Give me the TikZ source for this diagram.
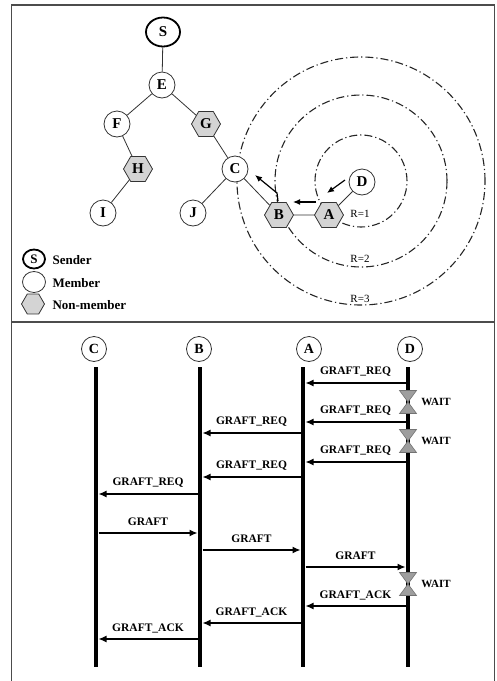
\documentclass[tikz,border=0pt]{standalone}
\usepackage{fontspec}
\setmainfont{Liberation Serif}
\usetikzlibrary{shapes.geometric,arrows.meta,calc}
\newcommand\msgL[4]{\draw[msg] ($(#1|-0,#3)+(-2.5,0)$) -- node[lbl,midway,yshift=11pt]{#4} ($(#2|-0,#3)+(2.5,0)$);}
\newcommand\msgR[4]{\draw[msg] ($(#1|-0,#3)+(2.5,0)$) -- node[lbl,midway,yshift=11pt]{#4} ($(#2|-0,#3)+(-2.5,0)$);}
\newcommand\hglass[2]{%
  \filldraw[glass] ($(#1|-0,#2)+(-8.5,-11.5)$) -- ($(#1|-0,#2)+(8.5,-11.5)$) -- ($(#1|-0,#2)$) -- cycle;
  \filldraw[glass] ($(#1|-0,#2)+(-8.5,11.5)$) -- ($(#1|-0,#2)+(8.5,11.5)$) -- ($(#1|-0,#2)$) -- cycle;
  \node[wlbl] at ($(#1|-0,#2)+(28,0)$) {WAIT};}
\begin{document}
\begin{tikzpicture}[x=1pt,y=-1pt,
  member/.style={circle,draw=black!80,line width=0.8pt,fill=white,minimum size=26pt,inner sep=0pt,font=\fontsize{15}{15}\selectfont\bfseries},
  nonmember/.style={regular polygon,regular polygon sides=6,draw=black!80,line width=0.8pt,fill=black!17,minimum size=29pt,inner sep=0pt,font=\fontsize{15}{15}\selectfont\bfseries},
  sender/.style={ellipse,draw=black,line width=1.8pt,fill=white,minimum width=34pt,minimum height=29pt,inner sep=0pt,font=\fontsize{15}{15}\selectfont\bfseries},
  edge/.style={draw=black!80,line width=0.8pt},
  ring/.style={draw=black!85,line width=1.1pt,dash pattern=on 8pt off 3pt on 1.2pt off 3pt},
  hint/.style={-{Latex[length=7pt,width=6pt]},line width=1.2pt},
  rlbl/.style={font=\fontsize{11}{11}\selectfont},
  leg/.style={anchor=west,font=\fontsize{13}{13}\selectfont\bfseries},
  head/.style={circle,draw=black!80,line width=0.8pt,minimum size=25pt,inner sep=0pt,font=\fontsize{14}{14}\selectfont\bfseries},
  life/.style={line width=3.5pt},
  msg/.style={-{Latex[length=8pt,width=7pt]},line width=1.3pt},
  lbl/.style={font=\fontsize{11.5}{11.5}\selectfont\bfseries},
  wlbl/.style={font=\fontsize{11}{11}\selectfont\bfseries},
  glass/.style={fill=black!38,draw=black!55,line width=0.6pt},
  frame/.style={draw=black!70,line width=1.2pt}]
\useasboundingbox (0,0) rectangle (497,681);
% frame
\draw[frame] (11.5,681) -- (11.5,5) -- (494.5,5) -- (494.5,681);
\draw[frame] (11.5,322) -- (494.5,322);
% rings
\coordinate (ctr) at (361,181);
\draw[ring] (ctr) circle[radius=46pt];
\draw[ring] (ctr) circle[radius=86pt];
\draw[ring] (ctr) circle[radius=124pt];
% tree nodes
\node[sender] (S) at (163,32) {S};
\node[member] (E) at (162,85) {E};
\node[member] (F) at (117,124) {F};
\node[nonmember] (G) at (206,124) {G};
\node[nonmember] (H) at (138,169) {H};
\node[member] (C) at (235,169) {C};
\node[member] (I) at (103,213) {I};
\node[member] (J) at (193,213) {J};
\node[nonmember] (B) at (279,215) {B};
\node[nonmember] (A) at (329,215) {A};
\node[member] (D) at (362,182) {D};
\draw[edge] (S) -- (E);
\draw[edge] (E) -- (F);
\draw[edge] (E) -- (G);
\draw[edge] (F) -- (H);
\draw[edge] (H) -- (I);
\draw[edge] (G) -- (C);
\draw[edge] (C) -- (J);
\draw[edge] (C) -- (B);
\draw[edge] (B) -- (A);
\draw[edge] (A) -- (D);
% hint arrows
\coordinate (d1) at (345,180); \coordinate (d2) at (327,193);
\coordinate (a1) at (316,202); \coordinate (a2) at (293,202);
\coordinate (b1) at (278,201); \coordinate (b2) at (277,193); \coordinate (b3) at (255,175);
\draw[hint] (d1) -- (d2);
\draw[hint] (a1) -- (a2);
\draw[hint] (b1) -- (b2) -- (b3);
% ring labels
\node[rlbl] (r1) at (360,214) {R=1};
\node[rlbl] (r2) at (360,259) {R=2};
\node[rlbl] (r3) at (360,299) {R=3};
% legend
\node[sender,minimum width=22pt,minimum height=19pt,font=\fontsize{13}{13}\selectfont\bfseries] (lS) at (34,259) {S};
\node[leg] (lSt) at (49,260) {Sender};
\node[member,minimum size=0pt,ellipse,minimum width=23pt,minimum height=21pt] (lM) at (34,282) {};
\node[leg] (lMt) at (49,283) {Member};
\node[nonmember,minimum size=23pt] (lN) at (33,304) {};
\node[leg] (lNt) at (49,305) {Non-member};
% sequence diagram
\node[head] (hC) at (94,349) {C};
\node[head] (hB) at (199,349) {B};
\node[head] (hA) at (309,349) {A};
\node[head] (hD) at (410,349) {D};
\coordinate (C0) at (96,367);  \coordinate (C1) at (96,667);
\coordinate (B0) at (200,367); \coordinate (B1) at (200,667);
\coordinate (A0) at (303,367); \coordinate (A1) at (303,667);
\coordinate (D0) at (408,367); \coordinate (D1) at (408,667);
\draw[life] (C0) -- (C1);
\draw[life] (B0) -- (B1);
\draw[life] (A0) -- (A1);
\draw[life] (D0) -- (D1);
\msgL{D0}{A0}{383}{GRAFT\_REQ}
\hglass{D0}{402}
\msgL{D0}{A0}{422}{GRAFT\_REQ}
\msgL{A0}{B0}{433}{GRAFT\_REQ}
\hglass{D0}{441}
\msgL{D0}{A0}{462}{GRAFT\_REQ}
\msgL{A0}{B0}{477}{GRAFT\_REQ}
\msgL{B0}{C0}{494}{GRAFT\_REQ}
\msgR{C0}{B0}{533}{GRAFT}
\msgR{B0}{A0}{550}{GRAFT}
\msgR{A0}{D0}{567}{GRAFT}
\hglass{D0}{584}
\msgL{D0}{A0}{606}{GRAFT\_ACK}
\msgL{A0}{B0}{623}{GRAFT\_ACK}
\msgL{B0}{C0}{639}{GRAFT\_ACK}
\end{tikzpicture}
\end{document}
